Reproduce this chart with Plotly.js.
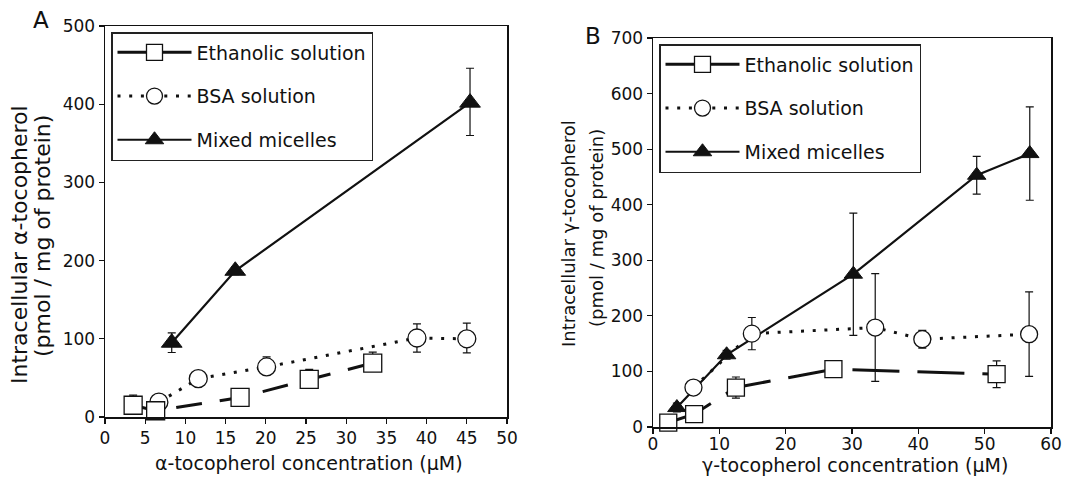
<!DOCTYPE html>
<html>
<head>
<meta charset="utf-8">
<script src="https://cdn.plot.ly/plotly-3.0.1.min.js"></script>
<style>html,body{margin:0;padding:0;background:#fff;}#chart{width:1087px;height:485px;}</style>
</head>
<body>
<div id="chart"></div>
<script>
// ---------- Data ----------
const seriesNames = ["Ethanolic solution", "BSA solution", "Mixed micelles"];

// Panel A : alpha-tocopherol
const ethX_A = [3.5, 6.3, 16.8, 25.4, 33.3];
const ethY_A = [15, 8, 25, 48, 69];
const ethEup_A = [13, 5, 10, 13, 14];
const ethEdn_A = [8, 5, 8, 8, 8];

const bsaX_A = [6.7, 11.6, 20.1, 38.8, 45.0];
const bsaY_A = [19, 49, 64, 101, 100];
const bsaEup_A = [5, 8, 13, 18, 20];
const bsaEdn_A = [5, 8, 10, 18, 18];

const micX_A = [8.3, 16.2, 45.4];
const micY_A = [95, 187, 402];
const micEup_A = [12.5, 5, 44];
const micEdn_A = [12.5, 5, 42];

// Panel B : gamma-tocopherol
const ethX_B = [2.3, 6.2, 12.5, 27.2, 51.8];
const ethY_B = [8, 23, 71, 104, 95];
const ethE_B = [8, 10, 19, 8, 24];

const bsaX_B = [6.1, 14.9, 33.5, 40.6, 56.7];
const bsaY_B = [71, 168, 179, 158, 167];
const bsaE_B = [10, 29, 97, 16, 76];

const micX_B = [3.6, 11.1, 30.2, 48.8, 56.8];
const micY_B = [35, 130, 275, 453, 492];
const micE_B = [8, 8, 110, 34, 84];

const xTicksA = [0, 5, 10, 15, 20, 25, 30, 35, 40, 45, 50];
const yTicksA = [0, 100, 200, 300, 400, 500];
const xTicksB = [0, 10, 20, 30, 40, 50, 60];
const yTicksB = [0, 100, 200, 300, 400, 500, 600, 700];

// ---------- Styling / layout ----------
const W = 1087, H = 485;
const fx = p => p / W;
const fy = p => 1 - p / H;
const FONT = "DejaVu Sans, Liberation Sans, Arial, sans-serif";
const INK = "#111";

function err(up, dn) {
  return {type: "data", symmetric: false, array: up, arrayminus: dn || up, visible: true,
          color: INK, thickness: 1.2, width: 4};
}

function makeTraces(xa, ya, leg, grp, d, sizes) {
  const [ex, ey, eeU, eeD, bx, by, beU, beD, mx, my, meU, meD, dash] = d;
  return [
    { // Mixed micelles (drawn first, bottom)
      x: mx, y: my, error_y: err(meU, meD), xaxis: xa, yaxis: ya, legend: leg,
      name: seriesNames[2], legendgroup: grp + "3", legendrank: 3,
      mode: "lines+markers", cliponaxis: false,
      line: {color: INK, width: 2.2},
      marker: {symbol: "triangle-up", size: sizes.tri, color: INK, line: {color: INK, width: 1}}
    },
    { // BSA solution
      x: bx, y: by, error_y: err(beU, beD), xaxis: xa, yaxis: ya, legend: leg,
      name: seriesNames[1], legendgroup: grp + "2", legendrank: 2,
      mode: "lines+markers", cliponaxis: false,
      line: {color: INK, width: 3, dash: "3px,8.7px"},
      marker: {symbol: "circle", size: sizes.circ, color: "#fff", line: {color: INK, width: 1.3}}
    },
    { // Ethanolic solution (top)
      x: ex, y: ey, error_y: err(eeU, eeD), xaxis: xa, yaxis: ya, legend: leg,
      name: seriesNames[0], legendgroup: grp + "1", legendrank: 1,
      mode: "lines+markers", cliponaxis: false,
      line: {color: INK, width: 3, dash: dash},
      marker: {symbol: "square", size: sizes.sq, color: "#fff", line: {color: INK, width: 1.3}}
    }
  ];
}

const traces = [].concat(
  makeTraces("x", "y", "legend", "a",
    [ethX_A, ethY_A, ethEup_A, ethEdn_A, bsaX_A, bsaY_A, bsaEup_A, bsaEdn_A,
     micX_A, micY_A, micEup_A, micEdn_A, "26px,18px"],
    {tri: 18, circ: 18, sq: 18}),
  makeTraces("x2", "y2", "legend2", "b",
    [ethX_B, ethY_B, ethE_B, ethE_B, bsaX_B, bsaY_B, bsaE_B, bsaE_B,
     micX_B, micY_B, micE_B, micE_B, "47px,18px"],
    {tri: 16, circ: 17, sq: 17})
);

function axis(extra) {
  return Object.assign({
    showline: true, mirror: true, linecolor: INK, linewidth: 1.5,
    ticks: "outside", ticklen: 5, tickwidth: 1.2, tickcolor: INK,
    showgrid: false, zeroline: false, automargin: false, fixedrange: true,
    tickfont: {family: FONT, size: 17, color: INK}, tickmode: "array"
  }, extra);
}

function legendBox(x, y) {
  return {
    x: fx(x), y: fy(y), xanchor: "left", yanchor: "top",
    bgcolor: "#fff", bordercolor: "#222", borderwidth: 1.5,
    font: {family: FONT, size: 19, color: INK},
    itemwidth: 74, tracegroupgap: 16, traceorder: "grouped"
  };
}

function ann(text, x, y, size, angle) {
  return {text: text, xref: "paper", yref: "paper", x: fx(x), y: fy(y),
    xanchor: "center", yanchor: "middle", showarrow: false, textangle: angle || 0,
    font: {family: FONT, size: size, color: INK}};
}

const layout = {
  width: W, height: H,
  margin: {l: 0, r: 0, t: 0, b: 0},
  paper_bgcolor: "#fff", plot_bgcolor: "#fff",
  showlegend: true,
  xaxis: axis({domain: [fx(105), fx(507)], range: [0, 50], tickvals: xTicksA, anchor: "y"}),
  yaxis: axis({domain: [fy(417), fy(26)], range: [0, 500], tickvals: yTicksA, anchor: "x"}),
  xaxis2: axis({domain: [fx(653), fx(1051)], range: [0, 60], tickvals: xTicksB, anchor: "y2",
                ticklabelstandoff: -4}),
  yaxis2: axis({domain: [fy(427), fy(38)], range: [0, 700], tickvals: yTicksB, anchor: "x2"}),
  legend: legendBox(111, 32),
  legend2: legendBox(659, 44),
  annotations: [
    ann("A", 41, 20, 23),
    ann("B", 593, 36, 23),
    ann("α-tocopherol concentration (μM)", 309, 463, 19),
    ann("γ-tocopherol concentration (μM)", 855, 465, 19),
    ann("Intracellular α-tocopherol", 19, 245, 22, -90),
    ann("(pmol / mg of protein)", 42, 236, 22, -90),
    ann("Intracellular γ-tocopherol", 568, 234, 18, -90),
    ann("(pmol / mg of protein)", 596, 228, 18, -90)
  ]
};

function solidEthanolicLegend(gd) {
  // legend sample for the ethanolic series is drawn as a solid line in the reference
  gd.querySelectorAll("g.traces").forEach(t => {
    const txt = t.querySelector("text");
    if (txt && txt.textContent.indexOf(seriesNames[0]) === 0) {
      t.querySelectorAll("path").forEach(p => {
        p.style.strokeDasharray = "none";
        p.setAttribute("stroke-dasharray", "none");
      });
    }
  });
}

Plotly.newPlot("chart", traces, layout, {staticPlot: true, displayModeBar: false}).then(gd => {
  solidEthanolicLegend(gd);
  gd.on && gd.on("plotly_afterplot", () => solidEthanolicLegend(gd));
  setTimeout(() => solidEthanolicLegend(gd), 50);
  setTimeout(() => solidEthanolicLegend(gd), 300);
});
</script>
</body>
</html>
